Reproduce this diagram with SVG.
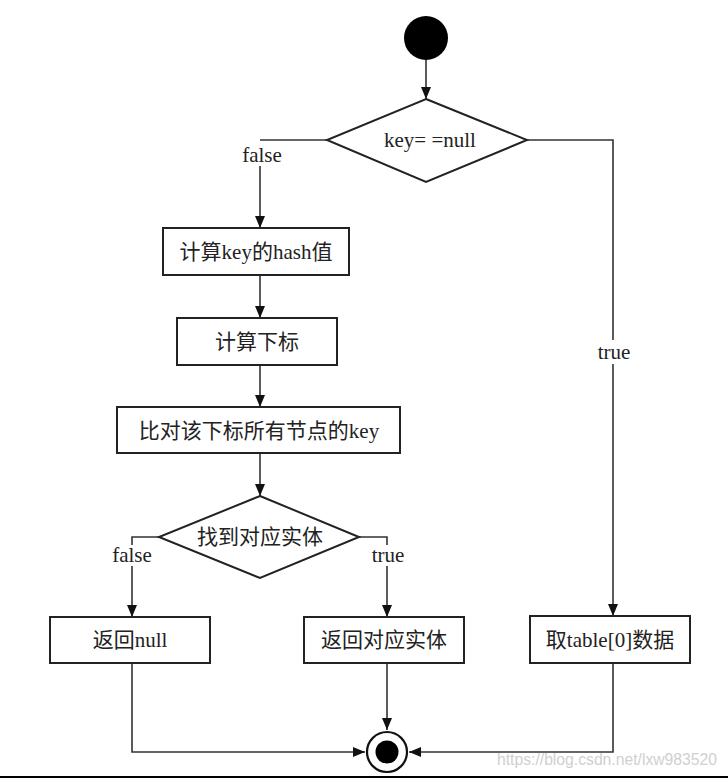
<svg xmlns="http://www.w3.org/2000/svg" width="728" height="779" viewBox="0 0 728 779">
<style>
.box{fill:#fff;stroke:#222;stroke-width:2}
.t{font-family:"Liberation Serif","Noto Sans CJK SC",serif;font-size:21px;fill:#222;text-anchor:middle;dominant-baseline:central}
.c{fill:none;stroke:#333;stroke-width:1.6}
.wm{font-family:"Liberation Sans",Arial,sans-serif;font-size:16px;fill:#d0d0d0}
</style>
<defs>
<marker id="ah" markerWidth="12" markerHeight="10" refX="12" refY="5" orient="auto" markerUnits="userSpaceOnUse">
<path d="M0,0 L12,5 L0,10 Z" fill="#111"/>
</marker>
</defs>
<rect width="728" height="779" fill="#fff"/>
<g id="connectors">
<path class="c" d="M426,60 V99" marker-end="url(#ah)"/>
<path class="c" d="M327,140 H260"/>
<path class="c" d="M260,166 V228" marker-end="url(#ah)"/>
<path class="c" d="M527,140 H613 V340"/>
<path class="c" d="M613,364 V616" marker-end="url(#ah)"/>
<path class="c" d="M260,275 V318" marker-end="url(#ah)"/>
<path class="c" d="M260,365 V407" marker-end="url(#ah)"/>
<path class="c" d="M260,453 V496" marker-end="url(#ah)"/>
<path class="c" d="M159,537 H132 V545"/>
<path class="c" d="M132,566 V617" marker-end="url(#ah)"/>
<path class="c" d="M359,537 H387 V545"/>
<path class="c" d="M387,566 V617" marker-end="url(#ah)"/>
<path class="c" d="M132,663 V752 H365" marker-end="url(#ah)"/>
<path class="c" d="M387,663 V730" marker-end="url(#ah)"/>
<path class="c" d="M613,663 V752 H409" marker-end="url(#ah)"/>
<text class="t" x="262" y="155">false</text>
<text class="t" x="614" y="352">true</text>
<text class="t" x="132" y="555">false</text>
<text class="t" x="388" y="555">true</text>
</g>
<g id="start"><circle cx="426" cy="38" r="22" fill="#000"/></g>
<g id="d1"><polygon class="box" points="426,99 527,140 426,182 327,140"/><text class="t" x="430" y="140">key= =null</text></g>
<g id="b1"><rect class="box" x="163" y="228" width="186" height="47"/><text class="t" x="256" y="252">计算key的hash值</text></g>
<g id="b2"><rect class="box" x="177" y="318" width="160" height="47"/><text class="t" x="257" y="342">计算下标</text></g>
<g id="b3"><rect class="box" x="117" y="407" width="283" height="46"/><text class="t" x="259" y="431">比对该下标所有节点的key</text></g>
<g id="d2"><polygon class="box" points="260,496 359,537 260,578 159,537"/><text class="t" x="260" y="537">找到对应实体</text></g>
<g id="b4"><rect class="box" x="50" y="617" width="160" height="46"/><text class="t" x="130" y="640">返回null</text></g>
<g id="b5"><rect class="box" x="304" y="617" width="160" height="46"/><text class="t" x="384" y="640">返回对应实体</text></g>
<g id="b6"><rect class="box" x="530" y="616" width="160" height="47"/><text class="t" x="610" y="640">取table[0]数据</text></g>
<g id="end"><circle cx="387" cy="752" r="20" fill="#fff" stroke="#111" stroke-width="2.2"/><circle cx="387" cy="752" r="11.5" fill="#000"/></g>
<text class="wm" x="497" y="765" textLength="220" lengthAdjust="spacingAndGlyphs">https://blog.csdn.net/lxw983520</text>
<line x1="0" y1="777" x2="728" y2="777" stroke="#000" stroke-width="2"/>
</svg>
